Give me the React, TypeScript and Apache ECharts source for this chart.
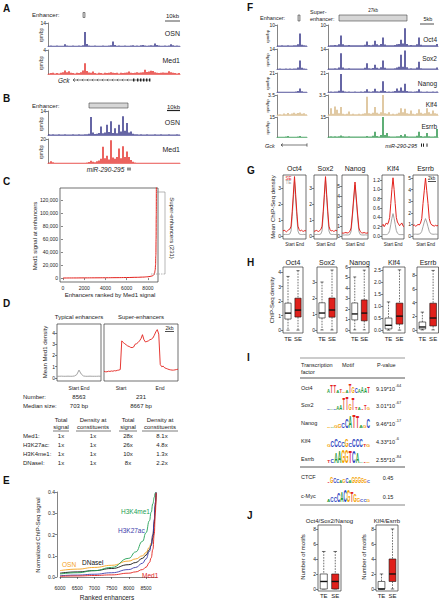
import React, { useEffect, useRef } from "react";
import * as echarts from "echarts";

const FONT = "'Liberation Sans', Arial, Helvetica, sans-serif";
const NAVY = "#25257f";
const RED = "#e3211c";
const TAN = "#d3b27c";
const GREEN = "#1b8c3c";
const GRAY = "#9a9a9a";
const ORANGE = "#f4a21e";
const BLUE = "#3c3cab";
const LGREEN = "#22a055";

// ---------------- DATA ----------------
// Panel A (Gck locus), 66 bins
const A_OSN = [0.2,0.3,0.2,0.2,0.3,0.2,0.2,0.2,1.0,0.3,0.2,0.2,0.3,0.2,0.2,0.3,0.2,0.4,8.5,1.2,0.3,0.2,0.2,0.3,0.2,0.2,0.2,0.3,0.2,0.2,0.3,0.5,2.8,0.6,0.2,0.3,0.2,0.2,0.3,0.2,0.2,0.3,0.4,0.2,0.3,0.2,0.4,0.6,0.3,0.2,0.3,0.4,0.3,1.5,0.6,0.3,0.2,0.2,0.3,0.2,0.3,1.1,0.4,0.2,0.3,0.2];
const A_MED1 = [0.1,0.15,0.2,0.1,0.15,0.1,0.2,0.3,0.6,0.3,0.45,0.2,0.15,0.1,0.2,0.15,0.3,0.6,1.8,0.5,0.25,0.2,0.4,0.15,0.1,0.2,0.15,0.1,0.2,0.15,0.2,0.3,0.2,0.15,0.2,0.1,0.2,0.15,0.2,0.25,0.4,0.2,0.15,0.2,0.3,0.2,0.25,0.3,0.7,0.35,0.4,0.55,0.5,0.3,0.2,0.15,0.2,0.25,0.2,0.2,0.45,0.3,0.2,0.15,0.1,0.15];
// Panel B (miR-290-295 locus), 66 bins
const B_OSN = [0.5,0.3,0.4,0.3,0.3,0.4,0.3,0.3,0.4,0.3,0.3,0.3,0.4,0.3,0.3,0.4,0.3,0.3,0.4,0.5,0.8,10.5,1.5,0.6,0.8,1.2,5.0,1.0,1.5,6.0,1.8,8.0,1.2,4.0,1.0,6.0,2.0,11.0,2.5,7.0,1.5,2.0,0.8,0.5,0.4,0.3,0.4,0.3,0.3,0.4,0.3,0.3,0.3,0.4,0.3,0.3,0.4,0.3,0.3,0.3,0.4,0.3,0.3,0.3,0.4,0.3];
const B_MED1 = [0.4,1.5,0.6,0.3,0.2,0.3,0.2,0.2,0.3,0.2,0.2,0.2,0.3,0.2,0.2,0.3,0.2,0.2,0.3,0.4,0.8,1.8,1.0,0.6,1.5,2.0,3.5,13.5,4.0,6.0,3.0,19.0,4.5,3.5,5.0,12.0,4.0,14.0,5.0,9.5,5.0,2.5,1.0,0.5,0.3,0.3,0.2,0.3,0.2,0.2,0.3,0.2,0.2,0.2,0.3,0.2,0.2,0.3,0.2,0.2,0.2,0.3,0.2,0.2,0.2,0.3];

// Panel C: Med1 signal ranked
const C_RANK = [0,1000,2000,3000,4000,5000,6000,7000,7500,8000,8200,8400,8500,8560,8620,8680,8720,8750,8770,8785,8794];
const C_SIGNAL = [100,200,300,400,500,650,850,1200,1500,2000,2500,3300,4000,5000,7500,12000,20000,35000,60000,95000,140000];

// Panel D: meta profiles
const D_TYPICAL = [0.15,0.15,0.16,0.15,0.15,0.16,0.15,0.15,0.18,0.3,0.7,0.35,0.18,0.15,0.15,0.16,0.15,0.15,0.15,0.16,0.15];
const D_SUPER = [0.6,0.55,0.55,0.6,0.58,0.62,0.6,0.65,0.63,0.68,0.7,0.75,3.3,3.15,3.05,2.95,2.85,2.8,2.72,2.7,2.75,3.0,3.05,3.15,3.3,3.5,3.85,3.4,3.2,3.25,3.3,3.4,3.45,3.55,3.8,4.1,4.3,3.9,1.2,1.0,1.05,0.9,0.85,0.8,0.75,0.72,0.7,0.7,0.72,0.75,0.78];
const D_NUMBER = ["8563", "231"];
const D_MEDIAN = ["703 bp", "8667 bp"];
const D_ROWS = ["Med1:", "H3K27ac:", "H3K4me1:", "DNaseI:"];
const D_TE_TOTAL = ["1x", "1x", "1x", "1x"];
const D_TE_DENS = ["1x", "1x", "1x", "1x"];
const D_SE_TOTAL = ["28x", "26x", "10x", "8x"];
const D_SE_DENS = ["8.1x", "4.8x", "1.3x", "2.2x"];

// Panel E: normalized ChIP-seq signal
const E_RANK = [6000,6500,7000,7500,8000,8200,8400,8500,8600,8650,8700,8740,8770,8794];
const E_OSN = [0.030,0.037,0.045,0.055,0.075,0.085,0.100,0.115,0.140,0.160,0.200,0.260,0.340,0.400];
const E_DNASE = [0.018,0.024,0.030,0.040,0.058,0.068,0.088,0.103,0.128,0.148,0.185,0.250,0.330,0.395];
const E_H3K4ME1 = [0.014,0.020,0.030,0.045,0.088,0.118,0.168,0.208,0.265,0.305,0.345,0.375,0.395,0.400];
const E_H3K27AC = [0.006,0.009,0.013,0.020,0.035,0.045,0.065,0.085,0.120,0.150,0.200,0.270,0.350,0.400];
const E_MED1 = [0.003,0.005,0.007,0.010,0.018,0.024,0.035,0.046,0.068,0.090,0.130,0.200,0.300,0.395];

// Panel F: tracks
const F_NAMES = ["Oct4", "Sox2", "Nanog", "Klf4", "Esrrb"];
const F_MAX = [10, 14, 21, 3.5, 15];
const F_OCT4_L = [0.2,0.2,0.3,0.2,0.2,0.3,0.2,0.2,0.3,0.4,0.8,6.0,0.6,0.3,0.2];
const F_SOX2_L = [0.2,0.3,0.2,0.2,0.3,0.2,0.3,0.2,0.3,0.4,1.0,6.0,0.8,0.3,0.2];
const F_NANOG_L = [0.3,0.3,0.4,0.3,0.3,0.4,0.3,0.3,0.4,0.5,1.0,4.0,0.8,0.4,0.3];
const F_KLF4_L = [0.1,0.15,0.1,0.25,0.15,0.35,0.15,0.25,0.4,0.2,0.35,0.45,0.2,0.3,0.15];
const F_ESRRB_L = [0.1,0.2,0.1,0.2,0.3,0.7,0.2,0.1,0.2,0.2,0.3,0.8,0.2,0.1,0.2];
const F_OCT4_R = [0.2,0.4,0.3,0.5,0.3,0.8,5.0,0.8,0.4,0.3,0.5,0.3,0.3,0.4,0.3,0.3,0.4,0.3,0.6,2.2,0.5,0.3,0.6,2.5,0.8,0.4,1.0,4.0,0.7,0.3,0.4,0.3,0.3,0.5,0.8,1.0,3.0,1.2,8.5,1.0,0.4,0.5,0.3,0.4,0.8,4.0,0.6,0.3,0.3,0.4,0.3,0.3,0.4,0.3,1.0];
const F_SOX2_R = [0.3,0.4,0.3,0.5,0.4,1.0,11.0,1.0,0.4,0.3,0.5,0.3,0.3,0.4,0.3,0.3,0.4,0.3,0.8,4.0,0.6,0.3,0.7,3.0,0.8,0.4,1.2,6.0,0.8,0.3,0.4,0.3,0.3,0.5,1.0,1.5,10.0,1.5,13.0,1.2,0.4,0.5,0.3,0.4,1.0,5.0,0.6,0.3,0.3,0.4,0.3,0.3,0.4,0.3,1.0];
const F_NANOG_R = [0.4,0.5,0.4,0.6,0.5,1.5,20.0,1.5,0.5,0.4,0.6,0.4,0.4,0.5,0.4,0.4,0.5,0.4,0.8,3.0,0.6,0.4,0.8,3.5,0.8,0.5,1.5,12.0,1.0,0.4,0.5,0.4,0.5,1.0,4.0,1.5,5.0,1.5,9.0,1.2,0.5,0.6,0.4,0.5,0.8,3.0,0.6,0.4,0.4,0.5,0.4,0.4,0.5,0.4,0.6];
const F_KLF4_R = [0.15,1.2,0.2,1.5,0.9,0.3,1.4,0.2,0.15,0.2,0.6,0.15,0.2,0.15,0.15,0.2,0.15,0.2,0.3,3.2,0.3,0.2,0.4,1.4,0.4,0.2,0.5,3.5,0.3,0.2,0.5,0.15,0.2,0.15,0.2,0.4,1.2,0.5,1.1,0.3,0.2,0.8,0.2,0.15,0.3,1.0,0.4,0.2,0.3,1.2,0.5,0.2,0.8,0.3,0.2];
const F_ESRRB_R = [0.3,0.5,0.3,0.6,0.4,0.5,1.2,0.5,0.3,0.3,0.5,0.3,0.3,0.4,0.3,0.3,0.4,0.3,0.4,0.8,0.3,0.4,1.0,4.0,0.8,0.4,1.5,15.0,1.5,3.0,0.5,0.3,0.3,0.4,0.5,0.6,1.5,0.6,2.0,0.5,0.3,0.4,0.3,0.4,1.0,4.0,0.8,0.3,0.5,3.0,0.5,0.3,0.4,0.5,6.0];

// Panel G: mean ChIP-seq density profiles
const G_NAMES = ["Oct4", "Sox2", "Nanog", "Klf4", "Esrrb"];
const G_SE_OCT4 = [0.30,0.35,0.30,0.25,0.32,0.38,0.42,0.60,1.50,2.60,3.70,2.60,1.50,0.60,0.40,0.30,0.35,0.30,0.28,0.33,0.30];
const G_SE_SOX2 = [0.28,0.30,0.34,0.30,0.27,0.33,0.40,0.60,1.50,2.60,3.70,2.60,1.50,0.60,0.38,0.30,0.33,0.28,0.30,0.35,0.30];
const G_SE_NANOG = [0.30,0.28,0.32,0.35,0.30,0.34,0.45,0.80,2.20,3.80,5.40,3.80,2.20,0.80,0.45,0.33,0.30,0.35,0.30,0.28,0.32];
const G_SE_KLF4 = [0.22,0.25,0.20,0.24,0.28,0.25,0.30,0.40,0.70,1.00,1.25,1.00,0.70,0.40,0.30,0.26,0.22,0.25,0.28,0.22,0.20];
const G_SE_ESRRB = [0.90,0.95,0.85,0.90,1.00,0.95,1.10,1.50,2.80,3.90,5.00,3.90,2.80,1.50,1.10,0.95,0.90,0.85,0.92,0.88,0.90];
const G_TE_OCT4 = [0.08,0.08,0.09,0.08,0.08,0.09,0.12,0.30,1.20,2.30,3.40,2.30,1.20,0.30,0.12,0.09,0.08,0.08,0.09,0.08,0.08];
const G_TE_SOX2 = [0.08,0.08,0.08,0.09,0.08,0.09,0.12,0.30,1.30,2.40,3.50,2.40,1.30,0.30,0.12,0.09,0.08,0.09,0.08,0.08,0.08];
const G_TE_NANOG = [0.10,0.10,0.10,0.11,0.10,0.11,0.15,0.45,1.90,3.50,5.10,3.50,1.90,0.45,0.15,0.11,0.10,0.10,0.11,0.10,0.10];
const G_TE_KLF4 = [0.03,0.03,0.03,0.03,0.03,0.04,0.06,0.12,0.25,0.38,0.48,0.38,0.25,0.12,0.06,0.04,0.03,0.03,0.03,0.03,0.03];
const G_TE_ESRRB = [0.15,0.15,0.16,0.15,0.15,0.17,0.22,0.40,0.80,1.20,1.50,1.20,0.80,0.40,0.22,0.17,0.15,0.15,0.16,0.15,0.15];
const G_TICKS = [[0,1,2,3],[0,1,2,3],[0,1,2,3,4,5],[0,0.2,0.4,0.6,0.8,1.0,1.2],[0,1,2,3,4,5]];

// Panel H: boxplots [min, q1, median, q3, max]
const H_NAMES = ["Oct4", "Sox2", "Nanog", "Klf4", "Esrrb"];
const H_TE = [[0,0.76,1.17,1.86,3.7],[0,0.75,1.06,1.7,3.0],[0,0.95,1.52,2.57,5.05],[0,0.05,0.2,0.5,1.17],[0,0.14,0.43,1.16,2.6]];
const H_SE = [[0,0.9,1.38,2.2,4.1],[0,0.8,1.25,2.0,3.75],[0,0.86,1.6,2.86,5.7],[0,0.25,0.58,1.12,2.5],[0,0.58,1.74,3.9,8.7]];
const H_TICKS = [[0,1,2,3,4],[0,1,2,3],[0,1,2,3,4,5,6],[0,0.5,1.0,1.5,2.0,2.5],[0,2,4,6,8]];
const BOX_GROUPS = ["TE", "SE"];

// Panel I: motif table
const I_FACTORS = ["Oct4", "Sox2", "Nanog", "Klf4", "Esrrb", "CTCF", "c-Myc"];
const I_PMANT = ["9.19*10", "3.01*10", "9.46*10", "4.33*10", "2.55*10", "0.45", "0.15"];
const I_PEXP = ["-64", "-67", "-17", "-6", "-84", "", ""];
const I_MOTIF_LETTERS = ["ATTATGATGCAAAT", "CACAATTGTTATTG", "GAGGCCATTAGC", "GCCCCGCCCCTG", "TCAAGGTCAATG", "TGCCAGCAGGGGGC", "ACCCACGTGGCCG"];
const I_MOTIF_HEIGHTS = [
  [0.25,0.65,0.6,0.2,0.25,0.1,0.2,0.75,0.45,0.35,0.3,0.5,0.35,0.45],
  [0.04,0.04,0.1,0.25,0.35,0.95,1.0,0.55,0.9,0.15,0.15,0.1,0.4,0.2],
  [0.12,0.12,0.15,0.3,0.35,0.75,0.9,1.0,0.9,0.15,0.15,0.7],
  [0.2,0.45,0.6,0.55,0.35,0.65,0.25,0.6,0.65,0.65,0.2,0.15],
  [0.15,0.3,0.8,0.9,1.0,1.0,0.9,0.9,0.85,0.1,0.1,0.1],
  [0.1,0.5,0.4,0.3,0.2,0.3,0.35,0.2,0.5,0.45,0.5,0.4,0.3,0.15],
  [0.2,0.35,0.4,0.7,0.8,0.9,0.9,0.8,0.65,0.3,0.2,0.2,0.15],
];

// Panel J: motif counts [min, q1, median, q3, max]
const J_NAMES = ["Oct4/Sox2/Nanog", "Klf4/Esrrb"];
const J_TE = [[0,0,1,2,5],[0,0,0,1,2]];
const J_SE = [[0,0,1,2,5],[0,1,2,4,8]];

// ---------------- LAYOUT ----------------
const F_TOPS = [25, 49, 73, 95, 117];
const F_HEIGHTS = [21, 20, 19, 20, 20];
const F_LABEL_Y = [39, 58, 83, 104, 126];
const G_BOXES = [[283, 23], [314, 23], [342, 26], [382, 22], [413, 25]];
const G_RANGES = [[-0.2, 3.8], [-0.2, 3.8], [-0.3, 6.1], [-0.065, 1.31], [-0.26, 5.26]];
const H_BOXES = [[283, 20], [317, 20], [350, 19], [383, 22], [417, 22]];
const H_RANGES = [[-0.2, 4.35], [-0.19, 3.94], [-0.3, 6.0], [-0.12, 2.62], [-0.45, 9.2]];
const J_BOXES = [[318, 23], [376, 22]];
const I_ROW_Y = [388, 405, 423, 441, 459, 477, 496];
const I_BASE_Y = [393, 410, 428, 447, 463, 483, 502];
const LETTER_COLORS: Record<string, string> = { A: "#1f9a3c", C: "#2a3fbf", G: "#f3a200", T: "#e3211c" };

function buildOption() {
  const grids: any[] = [];
  const xAxes: any[] = [];
  const yAxes: any[] = [];
  const series: any[] = [];
  const g: any[] = [];
  const LS = { color: "#333", width: 0.6 };
  const plain = (v: number) => String(v);

  function addGrid(l: number, t: number, w: number, h: number, box: boolean, xa: any, ya: any) {
    const i = grids.length;
    grids.push(box
      ? { left: l, top: t, width: w, height: h, show: true, borderColor: "#333", borderWidth: 0.7, backgroundColor: "transparent" }
      : { left: l, top: t, width: w, height: h });
    xAxes.push({ gridIndex: i, ...xa });
    yAxes.push({ gridIndex: i, ...ya });
    return i;
  }

  const hiddenCat = (n: number, gap: boolean) => ({
    type: "category", data: Array.from({ length: n }, (_, k) => k), boundaryGap: gap, show: false,
  });

  function valueAxis(min: number, max: number, ticks: number[], fmt?: (v: number) => string, margin = 2) {
    return {
      type: "value", min, max,
      axisLine: { show: false },
      axisTick: { show: true, length: 2, customValues: ticks, lineStyle: LS },
      axisLabel: { show: true, fontSize: 5, margin, color: "#222", fontFamily: FONT, customValues: ticks, formatter: fmt || plain, showMinLabel: true, showMaxLabel: true },
      splitLine: { show: false },
    };
  }

  function track(l: number, t: number, w: number, h: number, data: number[], max: number, color: string) {
    const i = addGrid(l, t, w, h, false, {
      type: "category", data: data.map((_, k) => k), boundaryGap: true,
      axisLine: { show: true, lineStyle: { color: color, width: 0.6 } },
      axisTick: { show: false }, axisLabel: { show: false }, splitLine: { show: false },
    }, {
      type: "value", min: 0, max,
      axisLine: { show: true, lineStyle: LS },
      axisTick: { show: true, length: 2, customValues: [max], lineStyle: LS },
      axisLabel: { show: true, fontSize: 5, margin: 2, color: "#222", fontFamily: FONT, customValues: [max], showMaxLabel: true, formatter: plain },
      splitLine: { show: false },
    });
    series.push({ type: "bar", xAxisIndex: i, yAxisIndex: i, data, barCategoryGap: "30%", itemStyle: { color }, silent: true });
  }

  const T = (x: number, y: number, text: string, o: any = {}) => ({
    type: "text", x, y, rotation: o.rot || 0, silent: true, z: 10,
    style: {
      text, fontSize: o.fs || 6, fontFamily: FONT, fill: o.color || "#222",
      align: o.align || "left", verticalAlign: o.va || "middle",
      fontWeight: o.bold ? "bold" : "normal", fontStyle: o.italic ? "italic" : "normal",
    },
  });
  const L = (x1: number, y1: number, x2: number, y2: number, o: any = {}) => ({
    type: "line", silent: true, z: 10, shape: { x1, y1, x2, y2 },
    style: { stroke: o.color || "#222", lineWidth: o.w || 0.7, lineDash: o.dash || null },
  });
  const R = (x: number, y: number, w: number, h: number, o: any = {}) => ({
    type: "rect", silent: true, z: 10, shape: { x, y, width: w, height: h },
    style: { fill: o.fill || "#d6d6d6", stroke: o.stroke || "#444", lineWidth: o.w ?? 0.6 },
  });

  // Panel letters
  [["A", 3, 8], ["B", 3, 98], ["C", 3, 181], ["D", 3, 303], ["E", 3, 480],
   ["F", 247, 7], ["G", 247, 170], ["H", 247, 262], ["I", 247, 357], ["J", 247, 515]].forEach(([s, x, y]) =>
    g.push(T(x as number, y as number, s as string, { fs: 10, bold: true, color: "#111" })));

  // ---------- Panel A ----------
  track(48, 23, 132, 23, A_OSN, 14, NAVY);
  track(48, 50, 132, 24, A_MED1, 4, RED);
  g.push(T(32, 15, "Enhancer:"));
  g.push(R(83, 12.5, 2, 5));
  g.push(T(172.5, 16, "10kb", { align: "center" }));
  g.push(L(165, 21, 180, 21, { w: 0.8 }));
  g.push(T(180, 33, "OSN", { align: "right", fs: 7 }));
  g.push(T(180, 60, "Med1", { align: "right", fs: 7 }));
  g.push(T(41, 35, "rpm/bp", { align: "center", fs: 4.5, rot: Math.PI / 2 }));
  g.push(T(41, 63, "rpm/bp", { align: "center", fs: 4.5, rot: Math.PI / 2 }));
  g.push(T(58, 80.5, "Gck", { italic: true, fs: 6.5 }));
  g.push(L(73, 80, 150, 80, { w: 0.6 }));
  for (let x = 77; x < 132; x += 5) {
    g.push({ type: "polyline", silent: true, z: 10, shape: { points: [[x + 1.2, 78.8], [x, 80], [x + 1.2, 81.2]] }, style: { stroke: "#222", lineWidth: 0.5, fill: null } });
  }
  [133, 137, 140, 143, 146, 149].forEach((x) => g.push(R(x, 78.5, 1.4, 3, { fill: "#222", stroke: "#222", w: 0 })));
  g.push({ type: "polyline", silent: true, z: 10, shape: { points: [[75, 78.3], [73, 80], [75, 81.7]] }, style: { stroke: "#222", lineWidth: 0.6, fill: null } });

  // ---------- Panel B ----------
  track(48, 111, 132, 24, B_OSN, 14, NAVY);
  track(48, 139, 132, 24, B_MED1, 20, RED);
  g.push(T(32, 105.5, "Enhancer:"));
  g.push(R(89, 103, 39, 5));
  g.push(T(173.5, 106.5, "10kb", { align: "center" }));
  g.push(L(167, 110.5, 180, 110.5, { w: 1.2 }));
  g.push(T(180, 122, "OSN", { align: "right", fs: 7 }));
  g.push(T(180, 149, "Med1", { align: "right", fs: 7 }));
  g.push(T(41, 124, "rpm/bp", { align: "center", fs: 4.5, rot: Math.PI / 2 }));
  g.push(T(41, 152, "rpm/bp", { align: "center", fs: 4.5, rot: Math.PI / 2 }));
  g.push(T(105.5, 169, "miR-290-295", { italic: true, align: "center", fs: 6.5 }));
  g.push(R(127.5, 167.5, 1, 3, { fill: "#222", stroke: "#222", w: 0 }));
  g.push(R(129.5, 167.5, 1, 3, { fill: "#222", stroke: "#222", w: 0 }));

  // ---------- Panel C ----------
  {
    const i = addGrid(60, 188, 98, 94, true,
      valueAxis(-280, 8950, [0, 2000, 4000, 6000, 8000], plain, 3),
      valueAxis(-6000, 138000, [0, 20000, 40000, 60000, 80000, 100000, 120000], (v: number) => v.toLocaleString("en-US")));
    series.push({
      type: "line", xAxisIndex: i, yAxisIndex: i, data: C_RANK.map((r, k) => [r, C_SIGNAL[k]]),
      showSymbol: false, smooth: true, smoothMonotone: "x", lineStyle: { color: RED, width: 1 }, silent: true,
    });
    g.push(T(35, 236, "Med1 signal at enhancers", { align: "center", rot: Math.PI / 2 }));
    g.push(T(110, 295, "Enhancers ranked by Med1 signal", { align: "center" }));
    g.push(L(157, 192, 165, 192, { color: "#888", w: 0.6 }));
    g.push(L(165, 192, 165, 274, { color: "#888", w: 0.6 }));
    g.push(L(151, 274, 165, 274, { color: "#888", w: 0.6, dash: [1.5, 1] }));
    g.push(T(172, 228, "Super-enhancers (231)", { align: "center", rot: -Math.PI / 2 }));
  }

  // ---------- Panel D ----------
  {
    const i1 = addGrid(57, 324, 44, 57, true, hiddenCat(D_TYPICAL.length, false),
      valueAxis(-0.27, 4.8, [0, 1, 2, 3, 4]));
    series.push({ type: "line", xAxisIndex: i1, yAxisIndex: i1, data: D_TYPICAL, showSymbol: false, lineStyle: { color: GRAY, width: 0.9 }, silent: true });
    const i2 = addGrid(104, 324, 74, 57, true, hiddenCat(D_SUPER.length, false),
      { type: "value", min: -0.27, max: 4.8, show: false });
    series.push({ type: "line", xAxisIndex: i2, yAxisIndex: i2, data: D_SUPER, showSymbol: false, lineStyle: { color: RED, width: 0.9 }, silent: true });
    g.push(T(79, 317, "Typical enhancers", { align: "center" }));
    g.push(T(141, 317, "Super-enhancers", { align: "center" }));
    g.push(T(45, 352, "Mean Med1 density", { align: "center", rot: Math.PI / 2 }));
    g.push(T(169.5, 328, "2kb", { align: "center", fs: 5 }));
    g.push(L(165, 331.5, 174, 331.5, { w: 0.8 }));
    g.push(T(79, 387.5, "Start End", { align: "center", fs: 5 }));
    g.push(T(121, 387.5, "Start", { align: "center", fs: 5 }));
    g.push(T(160, 387.5, "End", { align: "center", fs: 5 }));
    g.push(T(23, 397, "Number:"));
    g.push(T(79, 397, D_NUMBER[0], { align: "center" }));
    g.push(T(141, 397, D_NUMBER[1], { align: "center" }));
    g.push(T(23, 405.5, "Median size:"));
    g.push(T(79, 405.5, D_MEDIAN[0], { align: "center" }));
    g.push(T(141, 405.5, D_MEDIAN[1], { align: "center" }));
    const cols = [61, 93, 128, 160];
    const heads = [["Total", "signal"], ["Density at", "constituents"], ["Total", "signal"], ["Density at", "constituents"]];
    heads.forEach((h, k) => {
      g.push(T(cols[k], 420, h[0], { align: "center" }));
      g.push(T(cols[k], 427, h[1], { align: "center" }));
    });
    [[53, 69], [76, 111], [119, 137], [142, 178]].forEach(([a, b]) => g.push(L(a, 431, b, 431, { w: 0.6 })));
    D_ROWS.forEach((r, k) => {
      const y = 435.5 + k * 9;
      g.push(T(23, y, r));
      g.push(T(cols[0], y, D_TE_TOTAL[k], { align: "center" }));
      g.push(T(cols[1], y, D_TE_DENS[k], { align: "center" }));
      g.push(T(cols[2], y, D_SE_TOTAL[k], { align: "center" }));
      g.push(T(cols[3] + 2, y, D_SE_DENS[k], { align: "center" }));
    });
  }

  // ---------- Panel E ----------
  {
    const i = addGrid(60, 492, 97, 85, false,
      {
        type: "value", min: 6000, max: 8820, offset: 5,
        axisLine: { show: true, lineStyle: LS },
        axisTick: { show: true, length: 2, customValues: [6000, 6500, 7000, 7500, 8000, 8500], lineStyle: LS },
        axisLabel: { show: true, fontSize: 5, margin: 3, color: "#222", fontFamily: FONT, customValues: [6000, 6500, 7000, 7500, 8000, 8500], formatter: plain },
        splitLine: { show: false },
      },
      {
        type: "value", min: 0, max: 0.4, offset: 3,
        axisLine: { show: true, lineStyle: LS },
        axisTick: { show: true, length: 2, customValues: [0, 0.1, 0.2, 0.3, 0.4], lineStyle: LS },
        axisLabel: { show: true, fontSize: 5, margin: 2, color: "#222", fontFamily: FONT, customValues: [0, 0.1, 0.2, 0.3, 0.4], formatter: (v: number) => v.toFixed(1) },
        splitLine: { show: false },
      });
    const eSeries: [number[], string][] = [[E_OSN, ORANGE], [E_DNASE, "#111"], [E_H3K4ME1, LGREEN], [E_H3K27AC, BLUE], [E_MED1, RED]];
    eSeries.forEach(([vals, col]) => series.push({
      type: "line", xAxisIndex: i, yAxisIndex: i, data: E_RANK.map((r, k) => [r, vals[k]]), clip: false,
      showSymbol: false, smooth: true, smoothMonotone: "x", lineStyle: { color: col, width: 0.9 }, silent: true,
    }));
    g.push(T(38, 535, "Normalized ChIP-Seq signal", { align: "center", rot: Math.PI / 2 }));
    g.push(T(107, 597, "Ranked enhancers", { align: "center", fs: 6.5 }));
    g.push(T(121, 511, "H3K4me1", { color: LGREEN, fs: 6.5 }));
    g.push(T(118, 530, "H3K27ac", { color: BLUE, fs: 6.5 }));
    g.push(T(62, 564, "OSN", { color: ORANGE, fs: 6.5 }));
    g.push(T(82, 562, "DNaseI", { color: "#111", fs: 6.5 }));
    g.push(T(142, 575, "Med1", { color: RED, fs: 6.5 }));
  }

  // ---------- Panel F ----------
  {
    const leftData = [F_OCT4_L, F_SOX2_L, F_NANOG_L, F_KLF4_L, F_ESRRB_L];
    const rightData = [F_OCT4_R, F_SOX2_R, F_NANOG_R, F_KLF4_R, F_ESRRB_R];
    const cols = [NAVY, NAVY, NAVY, TAN, GREEN];
    F_NAMES.forEach((n, k) => {
      track(277, F_TOPS[k], 30, F_HEIGHTS[k], leftData[k], F_MAX[k], cols[k]);
      track(328, F_TOPS[k], 110, F_HEIGHTS[k], rightData[k], F_MAX[k], cols[k]);
      g.push(T(437, F_LABEL_Y[k], n, { align: "right", fs: 6.5 }));
      g.push(T(267, F_TOPS[k] + F_HEIGHTS[k] / 2 + 1, "rpm/bp", { align: "center", fs: 4.2, rot: Math.PI / 2 }));
    });
    g.push(T(260, 18, "Enhancer:", { fs: 5.5 }));
    g.push(R(298, 15, 2, 6));
    g.push(T(310, 11.5, "Super-", { fs: 5.5 }));
    g.push(T(310, 19, "enhancer:", { fs: 5.5 }));
    g.push(R(339, 15, 68, 6));
    g.push(T(373, 10, "27kb", { align: "center", fs: 4.5 }));
    g.push(T(428, 19, "5kb", { align: "center", fs: 5.5 }));
    g.push(L(420, 24, 434, 24, { w: 0.8 }));
    g.push(T(265, 145.5, "Gck", { italic: true, fs: 5.5 }));
    g.push(L(281, 145, 307, 145, { w: 0.6 }));
    g.push(L(307, 143.3, 307, 146.7, { w: 0.6 }));
    g.push({ type: "polyline", silent: true, z: 10, shape: { points: [[283, 143.5], [281, 145], [283, 146.5]] }, style: { stroke: "#222", lineWidth: 0.6, fill: null } });
    g.push(T(417, 145.5, "miR-290-295", { italic: true, fs: 5.5, align: "right" }));
    [421, 423, 426.5].forEach((x) => g.push(R(x, 143.5, 1, 3.2, { fill: "#222", stroke: "#222", w: 0 })));
  }

  // ---------- Panel G ----------
  {
    const se = [G_SE_OCT4, G_SE_SOX2, G_SE_NANOG, G_SE_KLF4, G_SE_ESRRB];
    const te = [G_TE_OCT4, G_TE_SOX2, G_TE_NANOG, G_TE_KLF4, G_TE_ESRRB];
    G_NAMES.forEach((n, k) => {
      const [l, w] = G_BOXES[k];
      const fmt = k === 3 ? (v: number) => v.toFixed(1) : undefined;
      const i = addGrid(l, 175, w, 64, true, hiddenCat(se[k].length, false),
        valueAxis(G_RANGES[k][0], G_RANGES[k][1], G_TICKS[k], fmt));
      series.push({ type: "line", xAxisIndex: i, yAxisIndex: i, data: te[k], showSymbol: false, lineStyle: { color: GRAY, width: 0.9 }, silent: true });
      series.push({ type: "line", xAxisIndex: i, yAxisIndex: i, data: se[k], showSymbol: false, lineStyle: { color: RED, width: 1 }, silent: true });
      g.push(T(l + w / 2, 168, n, { align: "center", fs: 7 }));
      g.push(T(l + w / 2, 244.5, "Start End", { align: "center", fs: 4.5 }));
    });
    g.push(T(273, 207, "Mean ChIP-Seq density", { align: "center", rot: Math.PI / 2 }));
    g.push(T(285.5, 178, "SE", { fs: 4.5, color: RED }));
    g.push(T(285.5, 182.5, "TE", { fs: 4.5, color: GRAY }));
    g.push(T(431.5, 178, "2kb", { fs: 4.5, align: "center" }));
    g.push(L(428, 181.5, 436, 181.5, { w: 0.8 }));
  }

  // ---------- Boxplot helper ----------
  function boxSeries(i: number, te: number[], se: number[]) {
    series.push({
      type: "custom", xAxisIndex: i, yAxisIndex: i, silent: true,
      data: [[0, ...te], [1, ...se]],
      encode: { x: 0, y: [1, 2, 3, 4, 5] },
      renderItem: (params: any, api: any) => {
        const c = api.value(0);
        const lo = api.coord([c, api.value(1)]);
        const q1 = api.coord([c, api.value(2)]);
        const md = api.coord([c, api.value(3)]);
        const q3 = api.coord([c, api.value(4)]);
        const hi = api.coord([c, api.value(5)]);
        const bw = api.size([1, 0])[0] * 0.62;
        const x = md[0];
        const stroke = { stroke: "#111", lineWidth: 0.6 };
        const dash = { stroke: "#111", lineWidth: 0.6, lineDash: [1.6, 1.2] };
        return {
          type: "group",
          children: [
            { type: "line", shape: { x1: x, y1: hi[1], x2: x, y2: q3[1] }, style: dash },
            { type: "line", shape: { x1: x, y1: q1[1], x2: x, y2: lo[1] }, style: dash },
            { type: "line", shape: { x1: x - bw / 4, y1: hi[1], x2: x + bw / 4, y2: hi[1] }, style: stroke },
            { type: "line", shape: { x1: x - bw / 4, y1: lo[1], x2: x + bw / 4, y2: lo[1] }, style: stroke },
            { type: "rect", shape: { x: x - bw / 2, y: q3[1], width: bw, height: Math.max(q1[1] - q3[1], 0.5) }, style: { fill: c === 0 ? "#fff" : "#e0201b", stroke: "#111", lineWidth: 0.6 } },
            { type: "line", shape: { x1: x - bw / 2, y1: md[1], x2: x + bw / 2, y2: md[1] }, style: { stroke: "#111", lineWidth: 1.4 } },
          ],
        };
      },
    });
  }
  const catAxis = (margin: number) => ({
    type: "category", data: BOX_GROUPS,
    axisLine: { show: false }, axisTick: { show: false },
    axisLabel: { show: true, fontSize: 6, margin, color: "#222", fontFamily: FONT, interval: 0 },
  });

  // ---------- Panel H ----------
  H_NAMES.forEach((n, k) => {
    const [l, w] = H_BOXES[k];
    const fmt = k === 3 ? (v: number) => v.toFixed(1) : undefined;
    const i = addGrid(l, 267, w, 66, true, catAxis(3), valueAxis(H_RANGES[k][0], H_RANGES[k][1], H_TICKS[k], fmt));
    boxSeries(i, H_TE[k], H_SE[k]);
    g.push(T(l + w / 2, 262, n, { align: "center", fs: 7 }));
  });
  g.push(T(272, 300, "ChIP-Seq density", { align: "center", rot: Math.PI / 2 }));

  // ---------- Panel I ----------
  g.push(L(300, 358, 405, 358, { w: 0.6, color: "#555" }));
  g.push(T(301, 365, "Transcription", { fs: 5.5 }));
  g.push(T(301, 371.5, "factor", { fs: 5.5 }));
  g.push(T(342, 365, "Motif", { fs: 5.5 }));
  g.push(T(377, 365, "P-value", { fs: 5.5 }));
  g.push(L(300, 378, 405, 378, { w: 0.9, color: "#444" }));
  g.push(L(300, 467, 405, 467, { w: 0.9, color: "#444" }));
  g.push(L(300, 505, 405, 505, { w: 0.9, color: "#777" }));
  I_FACTORS.forEach((f, k) => {
    const y = I_ROW_Y[k];
    g.push(T(301, y, f, { fs: 5.5 }));
    if (I_PEXP[k]) {
      g.push(T(376, y + 0.5, I_PMANT[k], { fs: 5.5 }));
      g.push(T(395.5, y - 3, I_PEXP[k], { fs: 4 }));
    } else {
      g.push(T(388, y + 0.5, I_PMANT[k], { fs: 5.5, align: "center" }));
    }
    const letters = I_MOTIF_LETTERS[k];
    const hs = I_MOTIF_HEIGHTS[k];
    const n = letters.length;
    const w = 43 / n;
    for (let j = 0; j < n; j++) {
      const s = Math.max(hs[j], 0.04) * 13 / 7.2;
      g.push({
        type: "text", silent: true, z: 10,
        x: 327 + w * (j + 0.5), y: I_BASE_Y[k] + 1.5 * s,
        scaleX: (w * 0.98) / 7.2, scaleY: s,
        style: { text: letters[j], fontSize: 10, fontWeight: "bold", fontFamily: FONT, fill: LETTER_COLORS[letters[j]], align: "center", verticalAlign: "bottom" },
      });
    }
  });

  // ---------- Panel J ----------
  J_NAMES.forEach((n, k) => {
    const [l, w] = J_BOXES[k];
    const i = addGrid(l, 525, w, 66, true, catAxis(2), valueAxis(-0.27, 8.53, [0, 2, 4, 6, 8]));
    boxSeries(i, J_TE[k], J_SE[k]);
    g.push(T(l + w / 2, 521, n, { align: "center", fs: 6 }));
  });
  g.push(T(303, 557, "Number of motifs", { align: "center", rot: Math.PI / 2 }));
  g.push(T(364, 557, "Number of motifs", { align: "center", rot: Math.PI / 2 }));

  return {
    animation: false,
    backgroundColor: "#ffffff",
    textStyle: { fontFamily: FONT },
    grid: grids,
    xAxis: xAxes,
    yAxis: yAxes,
    series,
    graphic: { elements: g },
  };
}

export default function App() {
  const ref = useRef<HTMLDivElement>(null);
  useEffect(() => {
    if (!ref.current) return;
    const chart = echarts.init(ref.current, null, { renderer: "svg" });
    chart.setOption(buildOption() as any);
    return () => chart.dispose();
  }, []);
  return (
    <div
      ref={ref}
      style={{ position: "fixed", left: 0, top: 0, width: 440, height: 603, background: "#fff" }}
    />
  );
}
